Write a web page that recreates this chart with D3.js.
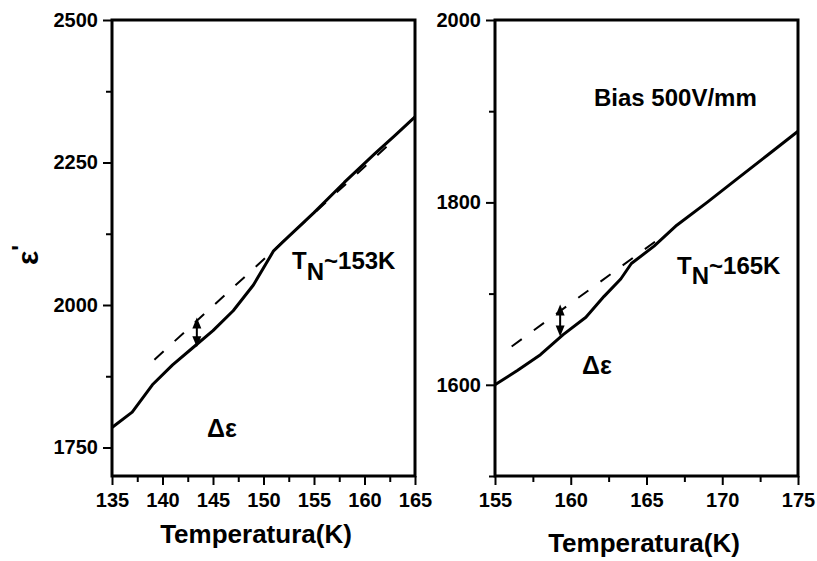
<!DOCTYPE html>
<html>
<head>
<meta charset="utf-8">
<script src="https://cdn.jsdelivr.net/npm/d3@7"></script>
<style>
  html, body { margin: 0; padding: 0; background: #fff; }
  svg { display: block; }
  text { font-family: "Liberation Sans", Arial, sans-serif; font-weight: bold; fill: #000; }
</style>
</head>
<body>
<svg id="chart" width="817" height="561"></svg>
<script>
// Left panel: no bias
const leftTemps  = [135, 137, 139, 141, 143, 145, 147, 149, 151, 152, 155, 158, 161, 163, 165];
const leftEps    = [1785, 1812, 1860, 1895, 1925, 1955, 1990, 2035, 2095, 2112, 2162, 2215, 2265, 2297, 2330];
const leftFitT   = [139.2, 162.2];
const leftFitE   = [1904, 2278];
const leftArrow  = { t: 143.4, lo: 1926, hi: 1978 };
const leftXTicks = [135, 140, 145, 150, 155, 160, 165];
const leftXMinor = [137.5, 142.5, 147.5, 152.5, 157.5, 162.5];
const leftYTicks = [1750, 2000, 2250, 2500];
const leftYMinor = [1875, 2125, 2375];

// Right panel: bias 500 V/mm
const rightTemps  = [155, 156.5, 158, 159.5, 161, 162.2, 163.3, 164, 165.5, 167, 169, 171, 173, 175];
const rightEps    = [1600, 1616, 1633, 1655, 1674, 1697, 1716, 1733, 1752, 1775, 1800, 1826, 1852, 1878];
const rightFitT   = [156.1, 165.9];
const rightFitE   = [1642, 1761];
const rightArrow  = { t: 159.3, lo: 1653, hi: 1688 };
const rightXTicks = [155, 160, 165, 170, 175];
const rightXMinor = [157.5, 162.5, 167.5, 172.5];
const rightYTicks = [1600, 1800, 2000];
const rightYMinor = [1500, 1700, 1900];

const svg = d3.select("#chart");
svg.append("rect").attr("width", 817).attr("height", 561).attr("fill", "#fff");

function drawPanel(p) {
  const x = d3.scaleLinear().domain(p.xDomain).range([p.left, p.right]);
  const y = d3.scaleLinear().domain(p.yDomain).range([p.bottom, p.top]);
  const g = svg.append("g");

  // minor ticks
  const xMinor = g.append("g").attr("transform", `translate(0,${p.bottom})`)
    .call(d3.axisBottom(x).tickValues(p.xMinor).tickSize(6).tickFormat(""));
  const yMinor = g.append("g").attr("transform", `translate(${p.left},0)`)
    .call(d3.axisLeft(y).tickValues(p.yMinor).tickSize(6).tickFormat(""));
  // major ticks
  const xAxis = g.append("g").attr("transform", `translate(0,${p.bottom})`)
    .call(d3.axisBottom(x).tickValues(p.xTicks).tickSize(9).tickPadding(8).tickFormat(d3.format("d")));
  const yAxis = g.append("g").attr("transform", `translate(${p.left},0)`)
    .call(d3.axisLeft(y).tickValues(p.yTicks).tickSize(9).tickPadding(5).tickFormat(d3.format("d")));

  [xMinor, yMinor, xAxis, yAxis].forEach(a => {
    a.select(".domain").remove();
    a.selectAll(".tick line").attr("stroke", "#000").attr("stroke-width", 2);
    a.selectAll("text").attr("font-size", 20).attr("font-family", "Liberation Sans, Arial, sans-serif")
      .attr("font-weight", "bold").attr("fill", "#000");
  });

  // frame
  g.append("rect")
    .attr("x", p.left).attr("y", p.top)
    .attr("width", p.right - p.left).attr("height", p.bottom - p.top)
    .attr("fill", "none").attr("stroke", "#000").attr("stroke-width", 3);

  // linear fit extrapolation (dashed)
  const fit = p.fitT.map((t, i) => [t, p.fitE[i]]);
  g.append("path").datum(fit)
    .attr("d", d3.line().x(d => x(d[0])).y(d => y(d[1])))
    .attr("fill", "none").attr("stroke", "#000").attr("stroke-width", 2)
    .attr("stroke-dasharray", "12.5,15");

  // measured permittivity
  const pts = p.temps.map((t, i) => [t, p.eps[i]]);
  g.append("path").datum(pts)
    .attr("d", d3.line().x(d => x(d[0])).y(d => y(d[1])))
    .attr("fill", "none").attr("stroke", "#000").attr("stroke-width", 3)
    .attr("stroke-linejoin", "round");

  // double-headed arrow marking the gap
  const ax = x(p.arrow.t), yHi = y(p.arrow.hi), yLo = y(p.arrow.lo);
  const head = 11, hw = 4.5;
  g.append("line").attr("x1", ax).attr("x2", ax).attr("y1", yHi + head - 1).attr("y2", yLo - head + 1)
    .attr("stroke", "#000").attr("stroke-width", 2);
  g.append("path")
    .attr("d", `M${ax},${yHi} L${ax - hw},${yHi + head} L${ax + hw},${yHi + head} Z`)
    .attr("fill", "#000");
  g.append("path")
    .attr("d", `M${ax},${yLo} L${ax - hw},${yLo - head} L${ax + hw},${yLo - head} Z`)
    .attr("fill", "#000");

  // axis title
  g.append("text").attr("x", p.titleX).attr("y", p.titleY)
    .attr("text-anchor", "middle").attr("font-size", 26).text("Temperatura(K)");

  // Néel temperature label
  const tn = g.append("text").attr("x", p.tnX).attr("y", p.tnY).attr("font-size", 24);
  tn.append("tspan").text("T");
  tn.append("tspan").attr("dy", p.subShift).text("N");
  tn.append("tspan").attr("dy", -p.subShift).text(p.tnText);

  // Δε label
  g.append("text").attr("x", p.deX).attr("y", p.deY).attr("font-size", 25).text("Δε");

  return { x, y, g };
}

drawPanel({
  left: 112, right: 415, top: 20, bottom: 476,
  xDomain: [135, 165], yDomain: [1700, 2500],
  xTicks: leftXTicks, xMinor: leftXMinor, yTicks: leftYTicks, yMinor: leftYMinor,
  temps: leftTemps, eps: leftEps, fitT: leftFitT, fitE: leftFitE, arrow: leftArrow,
  titleX: 256, titleY: 543,
  tnX: 292, tnY: 269, subShift: 11, tnText: "~153K",
  deX: 207, deY: 437
});

const right = drawPanel({
  left: 495, right: 798, top: 20, bottom: 476,
  xDomain: [155, 175], yDomain: [1500, 2000],
  xTicks: rightXTicks, xMinor: rightXMinor, yTicks: rightYTicks, yMinor: rightYMinor,
  temps: rightTemps, eps: rightEps, fitT: rightFitT, fitE: rightFitE, arrow: rightArrow,
  titleX: 644, titleY: 552,
  tnX: 677, tnY: 274, subShift: 10, tnText: "~165K",
  deX: 582, deY: 374
});

right.g.append("text").attr("x", 594).attr("y", 106).attr("font-size", 24).text("Bias 500V/mm");

// y-axis label ε'
const yl = svg.append("text")
  .attr("transform", "translate(38,255) rotate(-90)")
  .attr("text-anchor", "middle").attr("font-size", 30);
yl.append("tspan").text("ε");
yl.append("tspan").attr("dy", -9).attr("font-size", 24).text("'");
</script>
</body>
</html>
